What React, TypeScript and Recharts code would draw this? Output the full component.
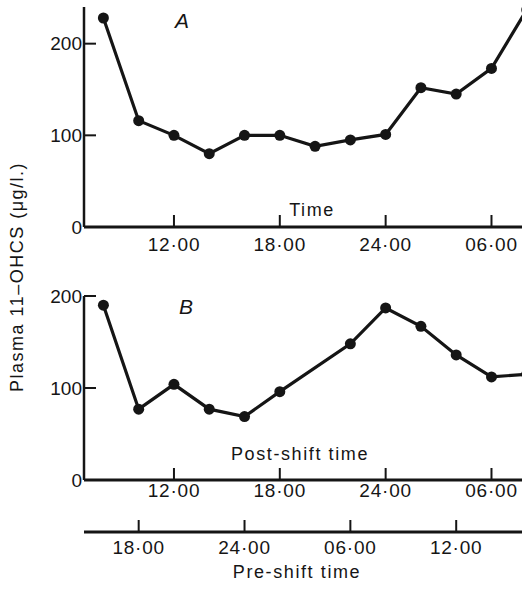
import React from "react";
import { LineChart, Line, XAxis, YAxis } from "recharts";

// sampling times in hours after midnight of day 1 (24 = midnight, 30 = 06.00 next day)
const sampleHoursA = [8, 10, 12, 14, 16, 18, 20, 22, 24, 26, 28, 30, 32];
const plasmaA = [228, 116, 100, 80, 100, 100, 88, 95, 101, 152, 145, 173, 237];

const sampleHoursB = [8, 10, 12, 14, 16, 18, 22, 24, 26, 28, 30, 32];
const plasmaB = [190, 77, 104, 77, 69, 96, 148, 187, 167, 136, 112, 115];

const postTicks = [12, 18, 24, 30];
const postTickLabels = ["12·00", "18·00", "24·00", "06·00"];

// pre-shift clock runs 8 h ahead of post-shift clock
const preTicks = [18, 24, 30, 36];
const preTickLabels = ["18·00", "24·00", "06·00", "12·00"];

const yTicks = [0, 100, 200];

const FONT = '"Liberation Sans", Arial, Helvetica, sans-serif';
const INK = "#151515";
const HOUR_DOMAIN: [number, number] = [6.9, 31.73];
const PRE_DOMAIN: [number, number] = [14.9, 39.73];
const PLOT_LEFT = 84;

const dataA = sampleHoursA.map((h, i) => ({ hour: h, value: plasmaA[i] }));
const dataB = sampleHoursB.map((h, i) => ({ hour: h, value: plasmaB[i] }));
const dataPre = preTicks.map((h) => ({ pre: h }));

const makeXTick =
  (axisY: number, labelY: number, ticks: number[], labels: string[]) =>
  (props: any) => {
    const { x, payload } = props;
    const label = labels[ticks.indexOf(payload.value)] ?? "";
    return (
      <g>
        <line x1={x} x2={x} y1={axisY} y2={axisY - 12} stroke={INK} strokeWidth={2} />
        <text
          x={x}
          y={labelY}
          textAnchor="middle"
          dominantBaseline="central"
          fontFamily={FONT}
          fontSize={19}
          letterSpacing={0.8}
          fill={INK}
        >
          {label}
        </text>
      </g>
    );
  };

const YTick = (props: any) => {
  const { y, payload } = props;
  return (
    <g>
      <line x1={PLOT_LEFT} x2={PLOT_LEFT + 12} y1={y} y2={y} stroke={INK} strokeWidth={2} />
      <text
        x={PLOT_LEFT - 2}
        y={y}
        textAnchor="end"
        dominantBaseline="central"
        fontFamily={FONT}
        fontSize={19}
        fill={INK}
      >
        {payload.value}
      </text>
    </g>
  );
};

const textStyle: React.CSSProperties = {
  position: "absolute",
  transform: "translate(-50%, -50%)",
  fontFamily: FONT,
  fontSize: 18,
  letterSpacing: 1.6,
  color: INK,
  whiteSpace: "nowrap",
  pointerEvents: "none",
};

const Panel = ({
  data,
  top,
  height,
  margin,
  axisY,
  labelY,
  yMax,
}: {
  data: { hour: number; value: number }[];
  top: number;
  height: number;
  margin: { top: number; right: number; bottom: number; left: number };
  axisY: number;
  labelY: number;
  yMax: number;
}) => (
  <div style={{ position: "absolute", left: 0, top }}>
    <LineChart width={522} height={height} data={data} margin={margin}>
      <XAxis
        dataKey="hour"
        type="number"
        domain={HOUR_DOMAIN}
        allowDataOverflow
        ticks={postTicks}
        interval={0}
        height={30}
        tickLine={false}
        axisLine={{ stroke: INK, strokeWidth: 3 }}
        tick={makeXTick(axisY, labelY, postTicks, postTickLabels)}
      />
      <YAxis
        type="number"
        domain={[0, yMax]}
        allowDataOverflow
        ticks={yTicks}
        interval={0}
        width={PLOT_LEFT}
        tickLine={false}
        axisLine={{ stroke: INK, strokeWidth: 2.5 }}
        tick={YTick}
      />
      <Line
        type="linear"
        dataKey="value"
        stroke={INK}
        strokeWidth={3.2}
        dot={{ r: 5.5, fill: INK, stroke: "none" }}
        isAnimationActive={false}
      />
    </LineChart>
  </div>
);

export default function App() {
  return (
    <div
      style={{
        position: "absolute",
        left: 0,
        top: 0,
        width: 522,
        height: 592,
        background: "#fff",
        overflow: "hidden",
      }}
    >
      <Panel
        data={dataA}
        top={0}
        height={270}
        margin={{ top: 7, right: 0, bottom: 13, left: 0 }}
        axisY={227}
        labelY={244}
        yMax={240}
      />
      <Panel
        data={dataB}
        top={280}
        height={240}
        margin={{ top: 16, right: 0, bottom: 10, left: 0 }}
        axisY={200}
        labelY={210}
        yMax={200}
      />
      <div style={{ position: "absolute", left: 0, top: 500 }}>
        <LineChart
          width={522}
          height={70}
          data={dataPre}
          margin={{ top: 0, right: 0, bottom: 8, left: PLOT_LEFT }}
        >
          <XAxis
            dataKey="pre"
            type="number"
            domain={PRE_DOMAIN}
            allowDataOverflow
            ticks={preTicks}
            interval={0}
            height={30}
            tickLine={false}
            axisLine={{ stroke: INK, strokeWidth: 3 }}
            tick={makeXTick(32, 47, preTicks, preTickLabels)}
          />
        </LineChart>
      </div>

      <div style={{ ...textStyle, left: 17, top: 277, letterSpacing: 1.5, transform: "translate(-50%, -50%) rotate(-90deg)" }}>
        Plasma 11–OHCS (μg/l.)
      </div>
      <div style={{ ...textStyle, left: 182, top: 21, fontSize: 21, fontStyle: "italic", letterSpacing: 0 }}>A</div>
      <div style={{ ...textStyle, left: 186, top: 307, fontSize: 21, fontStyle: "italic", letterSpacing: 0 }}>B</div>
      <div style={{ ...textStyle, left: 312, top: 210 }}>Time</div>
      <div style={{ ...textStyle, left: 300, top: 454 }}>Post-shift time</div>
      <div style={{ ...textStyle, left: 297, top: 572 }}>Pre-shift time</div>
    </div>
  );
}
